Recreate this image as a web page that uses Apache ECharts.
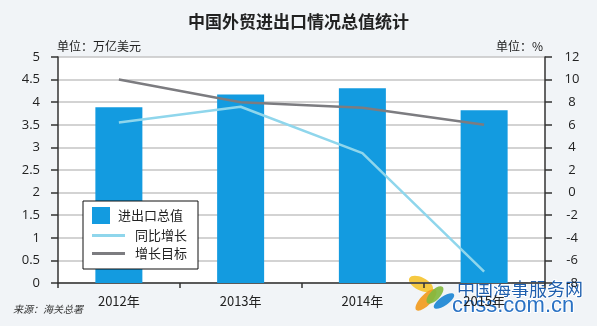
<!DOCTYPE html>
<html>
<head>
<meta charset="utf-8">
<script src="https://cdn.jsdelivr.net/npm/echarts@6/dist/echarts.min.js"></script>
<style>
  html, body { margin: 0; padding: 0; background: #f1f4f7; }
  #chart { width: 597px; height: 326px; }
</style>
</head>
<body>
<div id="chart"></div>
<script>
// Years shown along the category axis
const years = ['2012年', '2013年', '2014年', '2015年'];
// Total import/export value, trillion USD
const tradeTotal = [3.89, 4.17, 4.31, 3.82];
// Year-on-year growth, %
const yoyGrowth = [6.2, 7.6, 3.5, -7.0];
// Annual growth target, %
const growthTarget = [10, 8, 7.5, 6];
// Tick settings for both value axes
const leftTicks = { min: 0, max: 5, interval: 0.5 };
const rightTicks = { min: -8, max: 12, interval: 2 };

const FONT = '"Noto Sans CJK SC", "Noto Sans", sans-serif';
const NUM_FONT = '"Open Sans", "Noto Sans", sans-serif';

const chart = echarts.init(document.getElementById('chart'), null, { renderer: 'canvas' });

// rotated ellipse centred on its own origin
function leaf(cx, cy, rx, ry, rot, color) {
  return {
    type: 'ellipse',
    shape: { cx: cx, cy: cy, rx: rx, ry: ry },
    originX: cx, originY: cy,
    rotation: rot,
    style: { fill: color, opacity: 0.92 }
  };
}

chart.setOption({
  backgroundColor: '#f1f4f7',
  animation: false,
  title: {
    text: '中国外贸进出口情况总值统计',
    left: 'center',
    top: 8,
    textStyle: { fontFamily: FONT, fontSize: 17, fontWeight: 'bold', color: '#222' }
  },
  grid: {
    left: 58, right: 52, top: 57, bottom: 43,
    show: true, backgroundColor: '#ffffff', borderWidth: 0
  },
  legend: {
    orient: 'vertical',
    left: 83, top: 201,
    backgroundColor: '#ffffff',
    borderColor: '#111',
    borderWidth: 1,
    borderRadius: 0,
    padding: [6, 11, 9, 9],
    itemGap: 5,
    itemWidth: 33,
    itemHeight: 17,
    textStyle: { fontFamily: FONT, fontSize: 13, color: '#222' },
    data: [
      { name: '进出口总值', icon: 'path://M0,0H18V17H0Z M33,8.5L33,8.5',
        textStyle: { padding: [0, 0, 0, -12] } },
      { name: '同比增长', icon: 'path://M0,0H33V3H0Z',
        textStyle: { padding: [0, 0, 0, 5] } },
      { name: '增长目标', icon: 'path://M0,0H33V3H0Z',
        textStyle: { padding: [0, 0, 0, 5] } }
    ]
  },
  xAxis: {
    type: 'category',
    data: years,
    axisLine: { lineStyle: { color: '#333', width: 1.5 } },
    axisTick: { show: true, length: 5, lineStyle: { color: '#333', width: 1.5 } },
    axisLabel: { fontFamily: FONT, fontSize: 13, color: '#222', margin: 12 }
  },
  yAxis: [
    {
      type: 'value',
      min: leftTicks.min, max: leftTicks.max, interval: leftTicks.interval,
      position: 'left',
      axisLine: { show: true, lineStyle: { color: '#333', width: 1.5 } },
      axisTick: { show: true, length: 7, lineStyle: { color: '#333', width: 1.5 } },
      axisLabel: { fontFamily: NUM_FONT, fontSize: 13, color: '#222', margin: 18 },
      splitLine: { lineStyle: { color: '#c4c4c4', width: 1.5 } },
      name: '单位：万亿美元',
      nameLocation: 'end',
      nameGap: 5,
      nameTextStyle: { fontFamily: FONT, fontSize: 12, color: '#222', align: 'left', padding: [0, 0, 0, -1] }
    },
    {
      type: 'value',
      min: rightTicks.min, max: rightTicks.max, interval: rightTicks.interval,
      position: 'right',
      axisLine: { show: true, lineStyle: { color: '#333', width: 1.5 } },
      axisTick: { show: true, length: 7, lineStyle: { color: '#333', width: 1.5 } },
      axisLabel: { fontFamily: NUM_FONT, fontSize: 13, color: '#222', margin: 27, align: 'center' },
      splitLine: { show: false },
      name: '单位：%',
      nameLocation: 'end',
      nameGap: 5,
      nameTextStyle: { fontFamily: FONT, fontSize: 12, color: '#222', align: 'right', padding: [0, 2, 0, 0] }
    }
  ],
  series: [
    {
      name: '进出口总值',
      type: 'bar',
      yAxisIndex: 0,
      data: tradeTotal,
      barWidth: 47,
      itemStyle: { color: '#139be0' },
      z: 2
    },
    {
      name: '增长目标',
      type: 'line',
      yAxisIndex: 1,
      data: growthTarget,
      symbol: 'none',
      lineStyle: { color: '#7c7c80', width: 2.5 },
      itemStyle: { color: '#7c7c80' },
      z: 3
    },
    {
      name: '同比增长',
      type: 'line',
      yAxisIndex: 1,
      data: yoyGrowth,
      symbol: 'none',
      lineStyle: { color: '#8fd6ec', width: 2.5 },
      itemStyle: { color: '#8fd6ec' },
      z: 4
    }
  ],
  graphic: [
    {
      type: 'text',
      left: 13, top: 304,
      style: { text: '来源：海关总署', font: 'italic 10px "Noto Sans CJK SC", sans-serif', fill: '#333' }
    },
    // site mark in the lower right corner
    {
      type: 'group',
      children: [
        leaf(421, 284, 13, 6.5, -0.45, '#f5c431'),
        leaf(426, 300, 14, 5.5, 0.8, '#f19a1f'),
        leaf(435, 295, 11, 5, 0.8, '#83b83f'),
        leaf(444, 301, 12, 4.5, 0.6, '#1c86d4')
      ]
    },
    {
      type: 'text',
      left: 456, top: 279,
      style: { text: '中国海事服务网', font: '18px "Noto Sans CJK SC", sans-serif', fill: '#1f5fae', stroke: '#ffffff', lineWidth: 2 }
    },
    {
      type: 'text',
      left: 451, top: 294,
      style: { text: 'cnss.com.cn', font: '22px "Liberation Sans", Arial, sans-serif', fill: '#2a72c4', stroke: '#ffffff', lineWidth: 2 }
    }
  ]
});
</script>
</body>
</html>
